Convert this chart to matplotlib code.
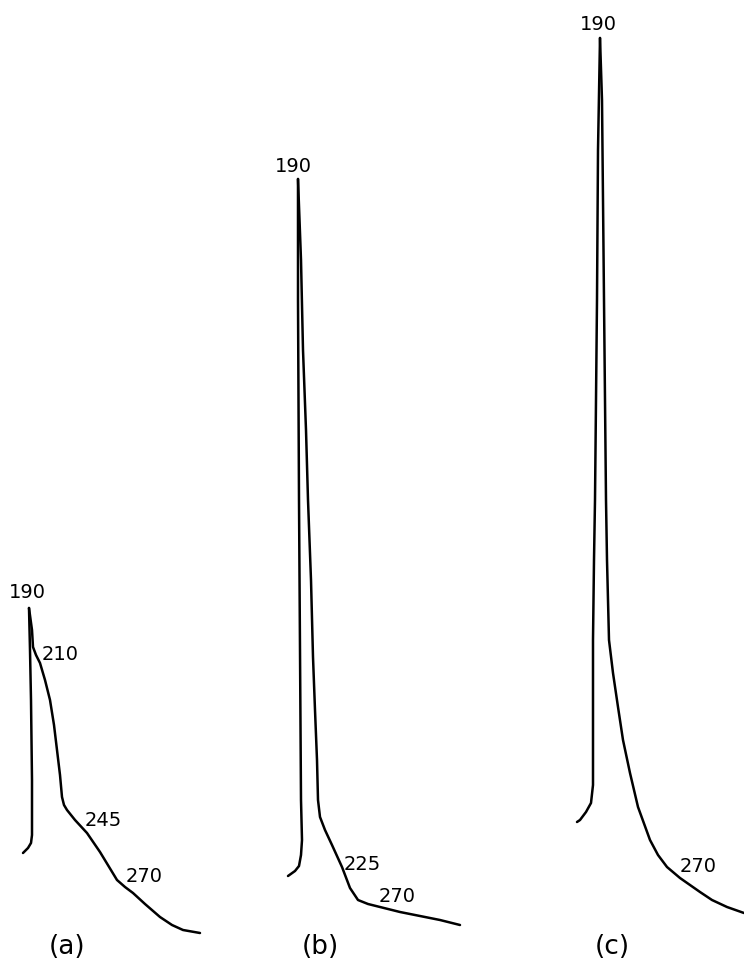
import matplotlib
matplotlib.use("Agg")
import matplotlib.pyplot as plt

# traces (horizontal position, vertical position from top)
a_left_x = [23, 28, 31, 32, 32, 31, 30, 29]
a_left_y = [853, 848, 843, 835, 780, 700, 650, 608]
a_right_x = [29, 32, 33, 36, 40, 45, 50, 54, 57, 60, 62, 64, 67, 75, 87, 100, 117, 125, 133, 145, 160, 172, 183, 200]
a_right_y = [608, 630, 647, 655, 663, 680, 700, 725, 750, 775, 797, 805, 810, 820, 833, 852, 880, 887, 893, 904, 917, 925, 930, 933]

b_left_x = [288, 295, 299, 301, 302, 301, 300, 299, 298, 298]
b_left_y = [876, 871, 866, 855, 840, 800, 650, 500, 300, 179]
b_right_x = [298, 301, 303, 306, 308, 311, 313, 315, 317, 318, 320, 325, 332, 342, 350, 358, 368, 380, 400, 420, 440, 460]
b_right_y = [179, 260, 350, 430, 500, 580, 657, 710, 760, 800, 817, 830, 845, 867, 888, 900, 904, 907, 912, 916, 920, 925]

c_left_x = [577, 580, 586, 591, 593, 593, 594, 595, 597, 598, 600]
c_left_y = [822, 820, 812, 803, 785, 640, 560, 500, 300, 150, 38]
c_right_x = [600, 602, 603, 604, 605, 606, 607, 609, 613, 618, 623, 630, 638, 650, 658, 667, 680, 690, 700, 712, 727, 744]
c_right_y = [38, 100, 200, 300, 400, 500, 560, 640, 673, 707, 740, 773, 807, 840, 855, 867, 878, 885, 892, 900, 907, 913]

# wavelength labels and panel names
peak_labels = ["190", "210", "245", "270", "190", "225", "270", "190", "270"]
peak_lx = [27, 60, 103, 144, 293, 362, 397, 598, 698]
peak_ly = [592, 655, 820, 877, 167, 864, 897, 24, 867]
panels = ["(a)", "(b)", "(c)"]
panel_x = [67, 320, 612]
panel_y = 947

fig = plt.figure(figsize=(7.44, 9.61), dpi=100)
ax = fig.add_axes([0, 0, 1, 1])

for xs, ys in [(a_left_x, a_left_y), (a_right_x, a_right_y),
               (b_left_x, b_left_y), (b_right_x, b_right_y),
               (c_left_x, c_left_y), (c_right_x, c_right_y)]:
    ax.plot(xs, ys, color="black", lw=1.8, solid_joinstyle="round", solid_capstyle="round")

for t, x, y in zip(peak_labels, peak_lx, peak_ly):
    ax.text(x, y, t, ha="center", va="center", fontsize=14)

for t, x in zip(panels, panel_x):
    ax.text(x, panel_y, t, ha="center", va="center", fontsize=19)

ax.set_xlim(0, 744)
ax.set_ylim(961, 0)
ax.axis("off")

fig.savefig("out.png", dpi=100, facecolor="white")
